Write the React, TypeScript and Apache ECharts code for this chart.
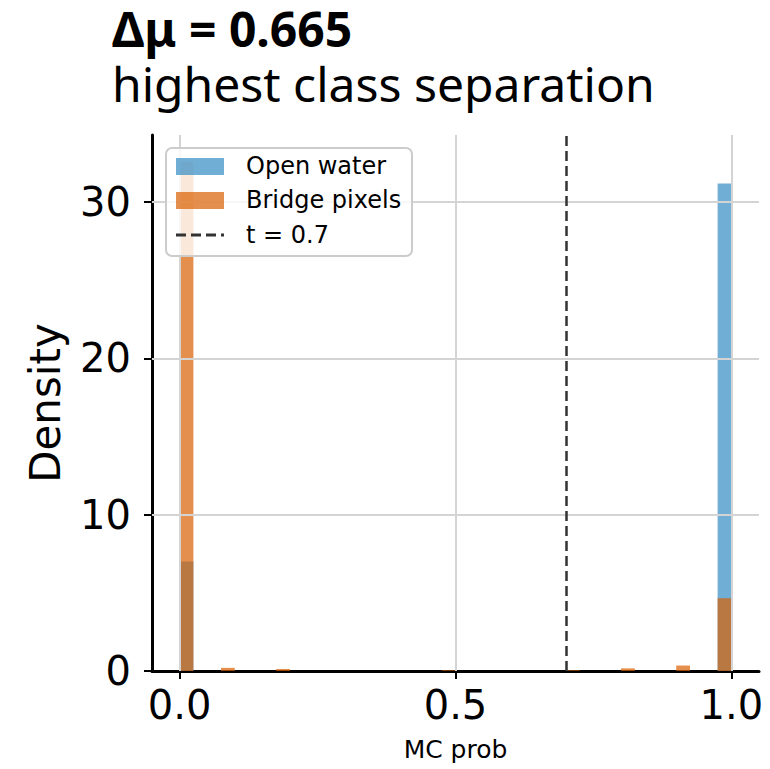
import React, { useEffect, useRef } from "react";
import * as echarts from "echarts";

// Histogram data (density), bins of width 0.025 on [0, 1]
const binWidth = 0.025;
const openWaterBinStarts = [0, 0.975];
const openWaterDensity = [7.0, 31.2];
const bridgeBinStarts = [0, 0.075, 0.175, 0.475, 0.7, 0.8, 0.9, 0.975];
const bridgeDensity = [32.6, 0.2, 0.13, 0.05, 0.05, 0.17, 0.35, 4.65];
const threshold = 0.7;
const xTicks = [0, 0.5, 1];
const yTicks = [0, 10, 20, 30];
const titleLine1 = "Δμ = 0.665";
const titleLine2 = "highest class separation";
const legendLabels = ["Open water", "Bridge pixels", "t = 0.7"];

const BLUE = "rgba(52,140,196,0.7)";
const ORANGE = "rgba(217,95,2,0.7)";
const FONT = "DejaVu Sans";

function histSeries(name: string, starts: number[], vals: number[], color: string, extra: any = {}) {
  return {
    type: "custom",
    name,
    clip: true,
    encode: { x: [0, 1], y: 2 },
    data: starts.map((s, i) => [s, s + binWidth, vals[i]]),
    renderItem: (params: any, api: any) => {
      const x0 = api.value(0);
      const x1 = api.value(1);
      const h = api.value(2);
      const p0 = api.coord([x0, 0]);
      const p1 = api.coord([x1, h]);
      return {
        type: "rect",
        shape: { x: p0[0], y: p1[1], width: p1[0] - p0[0], height: p0[1] - p1[1] },
        style: { fill: color },
      };
    },
    ...extra,
  };
}

export default function App() {
  const ref = useRef<HTMLDivElement>(null);
  useEffect(() => {
    if (!ref.current) return;
    const chart = echarts.init(ref.current, null, { renderer: "svg" });
    const gridLine = { color: "#d4d4d4", width: 2, type: "solid" };
    const option: any = {
      animation: false,
      backgroundColor: "#ffffff",
      title: [
        {
          text: titleLine1,
          left: 112,
          top: 4,
          padding: 0,
          textStyle: { fontFamily: "Noto Sans", fontWeight: "bold", fontSize: 48, lineHeight: 48, color: "#000" },
        },
        {
          text: titleLine2,
          left: 112,
          top: 58,
          padding: 0,
          textStyle: { fontFamily: "Noto Sans", fontWeight: "normal", fontSize: 48, lineHeight: 50, color: "#000" },
        },
      ],
      grid: { left: 152, right: 11, top: 135, bottom: 98, containLabel: false },
      xAxis: {
        type: "value",
        min: -0.05,
        max: 1.05,
        axisLine: { show: true, onZero: false, lineStyle: { color: "#000", width: 3 } },
        axisTick: { show: true, customValues: xTicks, length: 8, lineStyle: { color: "#000", width: 2 } },
        axisLabel: {
          customValues: xTicks,
          formatter: (v: number) => v.toFixed(1),
          fontSize: 40,
          fontFamily: FONT,
          color: "#000",
          margin: 14,
        },
        splitLine: { show: false },
        name: "MC prob",
        nameLocation: "middle",
        nameGap: 66,
        nameTextStyle: { fontSize: 25, fontFamily: FONT, color: "#000" },
      },
      yAxis: {
        type: "value",
        min: 0,
        max: 34.3,
        axisLine: { show: true, onZero: false, lineStyle: { color: "#000", width: 3 } },
        axisTick: { show: true, customValues: yTicks, length: 8, lineStyle: { color: "#000", width: 2 } },
        axisLabel: {
          customValues: yTicks,
          fontSize: 40,
          fontFamily: FONT,
          color: "#000",
          margin: 21,
        },
        splitLine: { show: false },
        name: "Density",
        nameLocation: "middle",
        nameGap: 86,
        nameTextStyle: { fontSize: 42, fontFamily: FONT, color: "#000" },
      },
      series: [
        histSeries("Open water", openWaterBinStarts, openWaterDensity, BLUE),
        histSeries("Bridge pixels", bridgeBinStarts, bridgeDensity, ORANGE, {
          markLine: {
            silent: true,
            symbol: "none",
            label: { show: false },
            data: [
              ...xTicks.map((v) => ({ xAxis: v, lineStyle: gridLine })),
              ...yTicks.filter((v) => v > 0).map((v) => ({ yAxis: v, lineStyle: gridLine })),
              { xAxis: threshold, lineStyle: { color: "#333", width: 2.5, type: [10, 5] } },
            ],
          },
        }),
      ],
      graphic: [
        {
          type: "rect",
          z: 100,
          shape: { x: 166, y: 148, width: 246, height: 108, r: 6 },
          style: { fill: "rgba(255,255,255,0.8)", stroke: "#cccccc", lineWidth: 2 },
        },
        { type: "rect", z: 101, shape: { x: 176, y: 158, width: 48, height: 17 }, style: { fill: BLUE } },
        {
          type: "text",
          z: 101,
          x: 246,
          y: 166,
          style: { text: legendLabels[0], fontSize: 24, fontFamily: FONT, fill: "#000", verticalAlign: "middle" },
        },
        { type: "rect", z: 101, shape: { x: 176, y: 192, width: 48, height: 17 }, style: { fill: ORANGE } },
        {
          type: "text",
          z: 101,
          x: 246,
          y: 200,
          style: { text: legendLabels[1], fontSize: 24, fontFamily: FONT, fill: "#000", verticalAlign: "middle" },
        },
        {
          type: "line",
          z: 101,
          shape: { x1: 176, y1: 235, x2: 224, y2: 235 },
          style: { stroke: "#333", lineWidth: 3, lineDash: [10, 5] },
        },
        {
          type: "text",
          z: 101,
          x: 246,
          y: 235,
          style: { text: legendLabels[2], fontSize: 24, fontFamily: FONT, fill: "#000", verticalAlign: "middle" },
        },
      ],
    };
    chart.setOption(option);
    return () => chart.dispose();
  }, []);
  return (
    <div
      ref={ref}
      style={{ position: "absolute", left: 0, top: 0, width: 770, height: 769 }}
    />
  );
}
